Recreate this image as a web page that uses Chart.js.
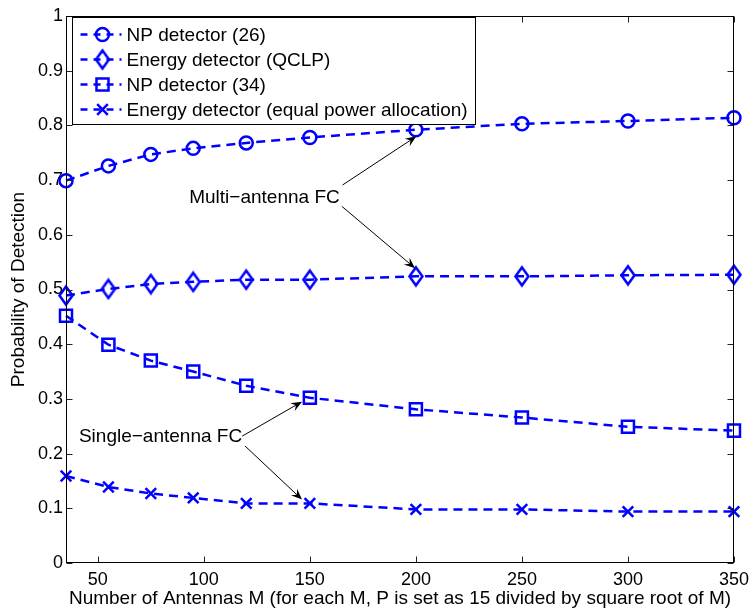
<!DOCTYPE html>
<html>
<head>
<meta charset="utf-8">
<script src="https://cdn.jsdelivr.net/npm/chart.js@4.4.1/dist/chart.umd.min.js"></script>
<style>
  html, body { margin: 0; padding: 0; background: #fff; }
</style>
</head>
<body>
<canvas id="chart" width="755" height="612"></canvas>
<script>
// values
const antennaCounts = [35, 55, 75, 95, 120, 150, 200, 250, 300, 350];
const npDetector26 = [0.699, 0.726, 0.747, 0.758, 0.768, 0.778, 0.792, 0.803, 0.808, 0.814];
const energyQclp = [0.489, 0.501, 0.510, 0.514, 0.518, 0.518, 0.524, 0.524, 0.526, 0.527];
const npDetector34 = [0.452, 0.399, 0.370, 0.350, 0.324, 0.302, 0.281, 0.266, 0.249, 0.242];
const energyEqualPower = [0.159, 0.139, 0.127, 0.119, 0.109, 0.109, 0.098, 0.098, 0.094, 0.094];
const seriesLabels = ['NP detector (26)', 'Energy detector (QCLP)', 'NP detector (34)', 'Energy detector (equal power allocation)'];
const xTickValues = [50, 100, 150, 200, 250, 300, 350];
const yTickValues = [0, 0.1, 0.2, 0.3, 0.4, 0.5, 0.6, 0.7, 0.8, 0.9, 1];

const xTitle = 'Number of Antennas M (for each M, P is set as 15 divided by square root of M)';
const yTitle = 'Probability of Detection';

// callouts, anchored in data units
const notes = [
  { text: 'Multi\u2212antenna FC', at: [93.1, 0.668],
    arrows: [[[165.4, 0.691], [200.2, 0.780]], [[165.1, 0.652], [199.6, 0.539]]] },
  { text: 'Single\u2212antenna FC', at: [41.1, 0.231],
    arrows: [[[118.1, 0.232], [146.3, 0.295]], [[119.4, 0.214], [146.3, 0.116]]] }
];

const BLUE = '#0000ff';
const FONT = '"Liberation Sans", Arial, Helvetica, sans-serif';
const LW = 2.5;

// matlab diamond is taller than wide, so build it as a small image
function diamondImage(w, h, lw) {
  const cv = document.createElement('canvas');
  cv.width = Math.ceil(w + lw * 2);
  cv.height = Math.ceil(h + lw * 2);
  const g = cv.getContext('2d');
  const cx = cv.width / 2, cy = cv.height / 2;
  g.strokeStyle = BLUE;
  g.lineWidth = lw;
  g.lineJoin = 'miter';
  g.beginPath();
  g.moveTo(cx, cy - h / 2);
  g.lineTo(cx + w / 2, cy);
  g.lineTo(cx, cy + h / 2);
  g.lineTo(cx - w / 2, cy);
  g.closePath();
  g.stroke();
  return cv;
}
const diamond = diamondImage(13, 18, LW);

const markers = [
  { style: 'circle', radius: 6.5 },
  { style: diamond, radius: 9 },
  { style: 'rect', radius: 8.5 },
  { style: 'crossRot', radius: 7.5 }
];
const seriesValues = [npDetector26, energyQclp, npDetector34, energyEqualPower];

function series(i) {
  return {
    label: seriesLabels[i],
    data: antennaCounts.map((m, k) => ({ x: m, y: seriesValues[i][k] })),
    borderColor: BLUE,
    borderWidth: LW,
    borderDash: [9, 6],
    backgroundColor: 'transparent',
    pointStyle: markers[i].style,
    pointRadius: markers[i].radius,
    pointBorderColor: BLUE,
    pointBackgroundColor: 'rgba(0,0,0,0)',
    pointBorderWidth: LW,
    tension: 0,
    clip: false
  };
}

function drawMarker(ctx, m, x, y) {
  ctx.save();
  ctx.strokeStyle = BLUE;
  ctx.lineWidth = LW;
  ctx.setLineDash([]);
  const r = m.radius;
  ctx.beginPath();
  if (m.style === 'circle') {
    ctx.arc(x, y, r, 0, Math.PI * 2);
    ctx.stroke();
  } else if (m.style === 'rect') {
    const s = r * Math.SQRT1_2;
    ctx.strokeRect(x - s, y - s, 2 * s, 2 * s);
  } else if (m.style === 'crossRot') {
    const s = r * Math.SQRT1_2;
    ctx.moveTo(x - s, y - s); ctx.lineTo(x + s, y + s);
    ctx.moveTo(x - s, y + s); ctx.lineTo(x + s, y - s);
    ctx.stroke();
  } else {
    ctx.drawImage(m.style, x - m.style.width / 2, y - m.style.height / 2);
  }
  ctx.restore();
}

function drawArrow(ctx, x0, y0, x1, y1) {
  const ang = Math.atan2(y1 - y0, x1 - x0);
  const len = 11, half = 4.5, notch = 7;
  ctx.beginPath();
  ctx.moveTo(x0, y0);
  ctx.lineTo(x1 - Math.cos(ang) * notch, y1 - Math.sin(ang) * notch);
  ctx.stroke();
  const bx = x1 - Math.cos(ang) * len, by = y1 - Math.sin(ang) * len;
  const nx = -Math.sin(ang) * half, ny = Math.cos(ang) * half;
  ctx.beginPath();
  ctx.moveTo(x1, y1);
  ctx.lineTo(bx + nx, by + ny);
  ctx.lineTo(x1 - Math.cos(ang) * notch, y1 - Math.sin(ang) * notch);
  ctx.lineTo(bx - nx, by - ny);
  ctx.closePath();
  ctx.fill();
}

const matlabFrame = {
  id: 'matlabFrame',
  afterDatasetsDraw(chart) {
    const { ctx, chartArea: a, scales: { x, y } } = chart;
    ctx.save();
    const L = Math.round(a.left) + 0.5, R = Math.round(a.right) - 0.5;
    const T = Math.round(a.top) + 0.5, B = Math.round(a.bottom) - 0.5;

    // inward ticks on all four sides
    ctx.strokeStyle = '#222';
    ctx.lineWidth = 1;
    ctx.beginPath();
    xTickValues.forEach(v => {
      const px = Math.round(x.getPixelForValue(v)) + 0.5;
      ctx.moveTo(px, B); ctx.lineTo(px, B - 6);
      ctx.moveTo(px, T); ctx.lineTo(px, T + 6);
    });
    yTickValues.forEach(v => {
      const py = Math.round(y.getPixelForValue(v)) + 0.5;
      ctx.moveTo(L, py); ctx.lineTo(L + 6, py);
      ctx.moveTo(R, py); ctx.lineTo(R - 6, py);
    });
    ctx.stroke();

    ctx.strokeStyle = '#000';
    ctx.strokeRect(L, T, R - L, B - T);

    // legend box, top-left inside the axes
    const lx = L + 6, ly = T + 1, lw = 403, lh = 107;
    ctx.fillStyle = '#fff';
    ctx.fillRect(lx, ly, lw, lh);
    ctx.strokeRect(lx, ly, lw, lh);
    ctx.font = '19px ' + FONT;
    ctx.textBaseline = 'middle';
    ctx.textAlign = 'left';
    seriesLabels.forEach((label, i) => {
      const ry = ly + 17 + i * 25;
      ctx.save();
      ctx.strokeStyle = BLUE;
      ctx.lineWidth = LW;
      ctx.setLineDash([7, 6]);
      ctx.beginPath();
      ctx.moveTo(lx + 8, ry); ctx.lineTo(lx + 49, ry);
      ctx.stroke();
      ctx.restore();
      drawMarker(ctx, markers[i], lx + 30, ry);
      ctx.fillStyle = '#000';
      ctx.fillText(label, lx + 54, ry + 1);
    });

    // callouts
    ctx.fillStyle = '#000';
    ctx.strokeStyle = '#000';
    ctx.lineWidth = 1;
    notes.forEach(n => {
      ctx.fillText(n.text, x.getPixelForValue(n.at[0]), y.getPixelForValue(n.at[1]));
      n.arrows.forEach(([p0, p1]) => {
        drawArrow(ctx,
          x.getPixelForValue(p0[0]), y.getPixelForValue(p0[1]),
          x.getPixelForValue(p1[0]), y.getPixelForValue(p1[1]));
      });
    });

    // axis titles
    ctx.textAlign = 'center';
    ctx.textBaseline = 'alphabetic';
    ctx.fillText(xTitle, (a.left + a.right) / 2, 604);
    ctx.translate(24, (a.top + a.bottom) / 2);
    ctx.rotate(-Math.PI / 2);
    ctx.fillText(yTitle, 0, 0);
    ctx.restore();
  }
};

new Chart(document.getElementById('chart'), {
  type: 'line',
  data: { datasets: [0, 1, 2, 3].map(series) },
  plugins: [matlabFrame],
  options: {
    responsive: false,
    animation: false,
    layout: { padding: { left: 0, right: 18, top: 16, bottom: 0 } },
    plugins: { legend: { display: false }, tooltip: { enabled: false } },
    scales: {
      x: {
        type: 'linear',
        min: 35,
        max: 350,
        afterFit: s => { s.height = 49; },
        afterBuildTicks: s => { s.ticks = xTickValues.map(v => ({ value: v })); },
        grid: { display: false, drawTicks: false },
        border: { display: false },
        ticks: { color: '#000', padding: 6, maxRotation: 0, font: { family: FONT, size: 18 } }
      },
      y: {
        min: 0,
        max: 1,
        afterFit: s => { s.width = 66; },
        afterBuildTicks: s => { s.ticks = yTickValues.map(v => ({ value: v })); },
        grid: { display: false, drawTicks: false },
        border: { display: false },
        ticks: { color: '#000', padding: 3, font: { family: FONT, size: 18 },
          callback: v => String(+v.toFixed(1)) }
      }
    }
  }
});
</script>
</body>
</html>
